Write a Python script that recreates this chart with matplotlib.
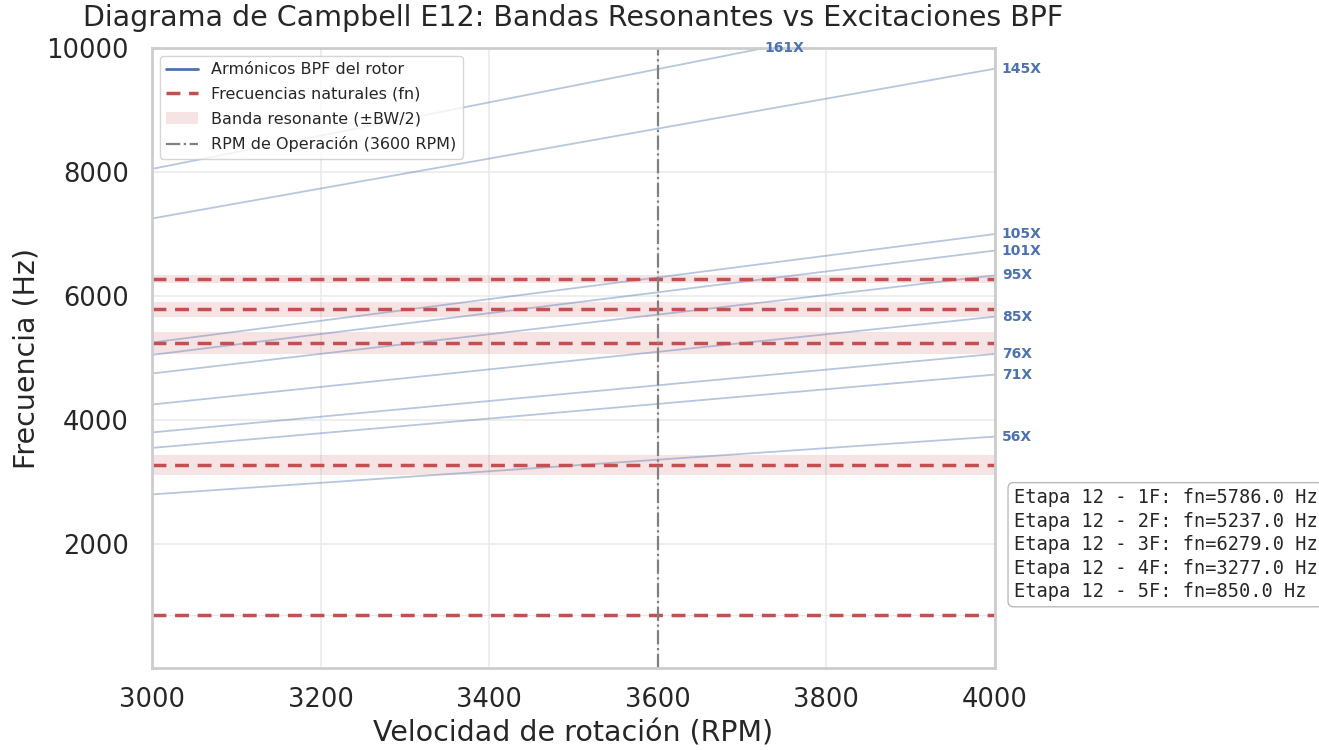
import numpy as np
import matplotlib
matplotlib.use("Agg")
import matplotlib.pyplot as plt
import seaborn as sns
from matplotlib.lines import Line2D
from matplotlib.patches import Patch

sns.set_theme(style="whitegrid")
plt.rcParams['font.family'] = ['DejaVu Sans']

# Data
rpm_range = [3000, 4000]
rpm_operation = 3600
harmonic_orders = [56, 71, 76, 85, 95, 101, 105, 145, 161]
mode_names = ["1F", "2F", "3F", "4F", "5F"]
natural_freqs = [5786.0, 5237.0, 6279.0, 3277.0, 850.0]
bandwidths = [240.0, 350.0, 130.0, 330.0, 25.0]
stage = 12
y_max = 10000

blue = '#4c72b0'
red = '#c44e52'

fig = plt.figure(figsize=(13.19, 7.5), dpi=100)
ax = fig.add_axes([0.1152, 0.1093, 0.6392, 0.8267])

rpm = np.linspace(rpm_range[0], rpm_range[1], 200)
for k in harmonic_orders:
    f = k * rpm / 60.0
    ax.plot(rpm, f, color=blue, alpha=0.4, lw=1.3)
    f_end = k * rpm_range[1] / 60.0
    if f_end <= y_max:
        ax.text(rpm_range[1] + 8, f_end, f"{k}X", color=blue, fontsize=10,
                fontweight='bold', va='center', ha='left')
    else:
        x_hit = y_max * 60.0 / k
        ax.text(x_hit, y_max, f"{k}X", color=blue, fontsize=10,
                fontweight='bold', va='center', ha='left')

for fn, bw in zip(natural_freqs, bandwidths):
    ax.axhspan(fn - bw / 2, fn + bw / 2, color=red, alpha=0.15, lw=0)
    ax.axhline(fn, color=red, ls='--', lw=2.5, dashes=(4, 2.5))

ax.axvline(rpm_operation, color='gray', ls='-.', lw=1.6)

ax.set_xlim(rpm_range)
ax.set_ylim(0, y_max)
ax.set_yticks([2000, 4000, 6000, 8000, 10000])
ax.set_xticks(np.arange(3000, 4001, 200))
ax.tick_params(labelsize=18.5)
ax.tick_params(axis='y', pad=10.5)
ax.tick_params(axis='x', pad=8)
ax.set_xlabel("Velocidad de rotación (RPM)", fontsize=20.5)
ax.set_ylabel("Frecuencia (Hz)", fontsize=20.5)
ax.set_title("Diagrama de Campbell E12: Bandas Resonantes vs Excitaciones BPF",
             fontsize=20.5, pad=15.5)
for s in ax.spines.values():
    s.set_color('#cccccc')
    s.set_linewidth(2)
ax.grid(True, color='#ebebeb', lw=1.2)

handles = [
    Line2D([0], [0], color=blue, lw=2),
    Line2D([0], [0], color=red, lw=2.5, ls='--', dashes=(4, 2.5)),
    Patch(facecolor=red, alpha=0.15, edgecolor='none'),
    Line2D([0], [0], color='gray', lw=1.6, ls='-.'),
]
labels = ["Armónicos BPF del rotor", "Frecuencias naturales (fn)",
          "Banda resonante (±BW/2)", f"RPM de Operación ({rpm_operation} RPM)"]
ax.legend(handles, labels, loc='upper left', fontsize=11.5, frameon=True,
          labelspacing=0.6)

info = "\n".join(f"Etapa {stage} - {m}: fn={fn:.1f} Hz" for m, fn in zip(mode_names, natural_freqs))
ax.text(1.022, 0.29, info, transform=ax.transAxes, family='DejaVu Sans Mono',
        fontsize=13.4, va='top', ha='left', linespacing=1.3,
        bbox=dict(boxstyle='round,pad=0.3', facecolor='white', edgecolor='#bbbbbb'))

fig.savefig("out.png", dpi=100)
